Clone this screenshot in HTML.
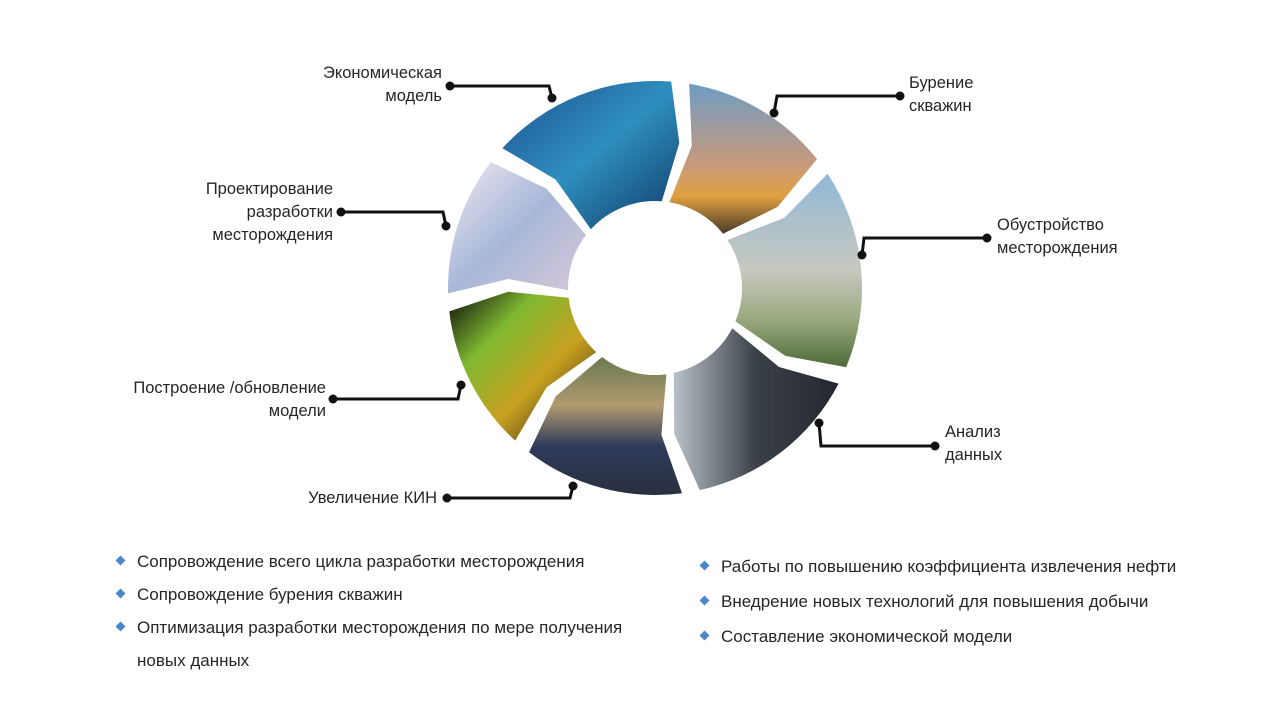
<!DOCTYPE html>
<html><head><meta charset="utf-8"><style>
body{margin:0;width:1280px;height:720px;background:#fff;overflow:hidden;position:relative;font-family:"Liberation Sans",sans-serif;color:#262626}
.t{position:absolute;font-size:16.5px;line-height:23px;white-space:nowrap}
.r{text-align:right}
.b{position:absolute;font-size:17px;white-space:nowrap}
.d{position:absolute;width:7px;height:7px;background:#4a86c8;transform:rotate(45deg)}
svg{position:absolute;left:0;top:0}
</style></head><body>
<svg width="1280" height="720" id="s">
<defs>
<linearGradient id="g0" x1="0" y1="0" x2="1" y2="1"><stop offset="0" stop-color="#1d4f8f"/><stop offset=".5" stop-color="#2f8fbf"/><stop offset="1" stop-color="#0e3a66"/></linearGradient>
<linearGradient id="g1" x1="0" y1="0" x2="0" y2="1"><stop offset="0" stop-color="#6f9cc4"/><stop offset=".55" stop-color="#c99a7a"/><stop offset=".75" stop-color="#e0a040"/><stop offset="1" stop-color="#4a3a2a"/></linearGradient>
<linearGradient id="g2" x1="0" y1="0" x2="0" y2="1"><stop offset="0" stop-color="#8fb8d6"/><stop offset=".5" stop-color="#c8c8c0"/><stop offset=".75" stop-color="#9aaa80"/><stop offset="1" stop-color="#4f6a38"/></linearGradient>
<linearGradient id="g3" x1="0" y1="0" x2="1" y2="0"><stop offset="0" stop-color="#b8c0c8"/><stop offset=".5" stop-color="#3a4048"/><stop offset="1" stop-color="#23282e"/></linearGradient>
<linearGradient id="g4" x1="0" y1="0" x2="0" y2="1"><stop offset="0" stop-color="#6a7a50"/><stop offset=".35" stop-color="#b09a70"/><stop offset=".65" stop-color="#2e3a5a"/><stop offset="1" stop-color="#2a3040"/></linearGradient>
<linearGradient id="g5" x1="0" y1="0" x2="1" y2="1"><stop offset="0" stop-color="#0a0a0a"/><stop offset=".3" stop-color="#7fb830"/><stop offset=".6" stop-color="#c8a020"/><stop offset="1" stop-color="#111"/></linearGradient>
<linearGradient id="g6" x1="0" y1="0" x2="1" y2="1"><stop offset="0" stop-color="#f0e8f0"/><stop offset=".5" stop-color="#a8b8d8"/><stop offset="1" stop-color="#d8c8d8"/></linearGradient>
</defs>
<g id="w"></g>
<g stroke="#111" stroke-width="3" fill="none">
<polyline points="450,86 549,86 552,98"/>
<polyline points="774,113 777,96 900,96"/>
<polyline points="862,255 864,238 987,238"/>
<polyline points="819,423 821,446 935,446"/>
<polyline points="447,498 570,498 573,486"/>
<polyline points="333,399 458,399 461,385"/>
<polyline points="341,212 443,212 446,226"/>
</g>
<g fill="#111">
<circle cx="450" cy="86" r="4.5"/><circle cx="552" cy="98" r="4.5"/>
<circle cx="774" cy="113" r="4.5"/><circle cx="900" cy="96" r="4.5"/>
<circle cx="862" cy="255" r="4.5"/><circle cx="987" cy="238" r="4.5"/>
<circle cx="819" cy="423" r="4.5"/><circle cx="935" cy="446" r="4.5"/>
<circle cx="447" cy="498" r="4.5"/><circle cx="573" cy="486" r="4.5"/>
<circle cx="333" cy="399" r="4.5"/><circle cx="461" cy="385" r="4.5"/>
<circle cx="341" cy="212" r="4.5"/><circle cx="446" cy="226" r="4.5"/>
</g>
</svg>
<script>
(function(){
var cx=655,cy=288,R=207,r=87,b=[310,367,414,475,530,580,626,670],g=document.getElementById('w'),s='';
function p(a,rad){a=(a-90)*Math.PI/180;return (cx+rad*Math.cos(a)).toFixed(1)+','+(cy+rad*Math.sin(a)).toFixed(1);}
for(var i=0;i<7;i++){var a0=b[i]+2.5,a1=b[i+1]-2.5;
var d='M'+p(a0,r)+' L'+p(a0+5,(r+R)/2)+' L'+p(a0,R)+' A'+R+','+R+' 0 0 1 '+p(a1,R)+' L'+p(a1+5,(r+R)/2)+' L'+p(a1,r)+' A'+r+','+r+' 0 0 0 '+p(a0,r)+'Z';
s+='<path d="'+d+'" fill="url(#g'+i+')"/>';}
g.innerHTML=s;})();
</script>
<div class="t r" style="right:838px;top:62px">Экономическая<br>модель</div>
<div class="t" style="left:909px;top:72px">Бурение<br>скважин</div>
<div class="t r" style="right:947px;top:178px">Проектирование<br>разработки<br>месторождения</div>
<div class="t" style="left:997px;top:214px">Обустройство<br>месторождения</div>
<div class="t r" style="right:954px;top:377px">Построение /обновление<br>модели</div>
<div class="t" style="left:945px;top:421px">Анализ<br>данных</div>
<div class="t r" style="right:843px;top:487px">Увеличение КИН</div>
<div class="d" style="left:117px;top:557px"></div><div class="b" style="left:137px;top:552px">Сопровождение всего цикла разработки месторождения</div>
<div class="d" style="left:117px;top:590px"></div><div class="b" style="left:137px;top:585px">Сопровождение бурения скважин</div>
<div class="d" style="left:117px;top:623px"></div><div class="b" style="left:137px;top:618px">Оптимизация разработки месторождения по мере получения</div>
<div class="b" style="left:137px;top:651px">новых данных</div>
<div class="d" style="left:701px;top:562px"></div><div class="b" style="left:721px;top:557px">Работы по повышению коэффициента извлечения нефти</div>
<div class="d" style="left:701px;top:597px"></div><div class="b" style="left:721px;top:592px">Внедрение новых технологий для повышения добычи</div>
<div class="d" style="left:701px;top:632px"></div><div class="b" style="left:721px;top:627px">Составление экономической модели</div>
</body></html>
